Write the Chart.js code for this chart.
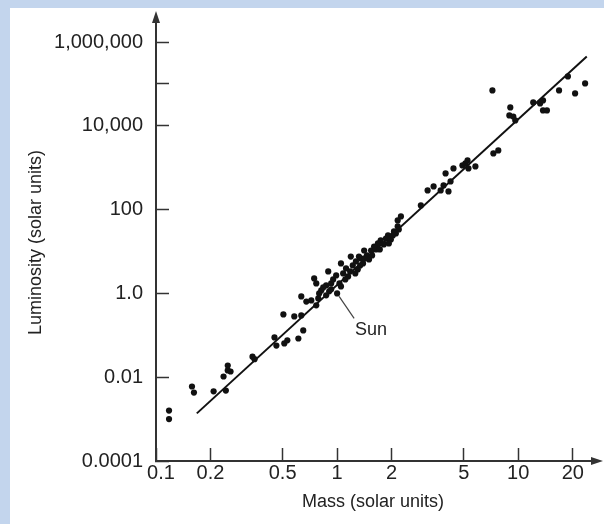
<!DOCTYPE html>
<html>
<head>
<meta charset="utf-8">
<script src="https://cdn.jsdelivr.net/npm/chart.js@4.4.0/dist/chart.umd.min.js"></script>
<style>
  html, body { margin: 0; padding: 0; }
  body { background: #c3d5ed; width: 604px; height: 524px; position: relative; overflow: hidden; }
  #panel { position: absolute; left: 10px; top: 8px; width: 594px; height: 516px; background: #fff; }
</style>
</head>
<body>
<div id="panel"><canvas id="mlChart" width="594" height="516"></canvas></div>
<script>
// Stars (solar units)
const mass = [0.118, 0.118, 0.158, 0.162, 0.208, 0.243, 0.236, 0.249, 0.258, 0.249,
  0.341, 0.350, 0.451, 0.462, 0.511, 0.531, 0.611, 0.650, 0.505, 0.580,
  0.634, 0.634, 0.676, 0.720, 0.767, 0.787, 0.817, 0.870, 0.927, 1.0,
  0.747, 0.893, 0.767, 1.05, 1.19, 1.32, 1.41, 1.60, 1.74, 1.91,
  2.16, 2.25, 2.16, 2.90, 3.16, 3.41, 3.73, 3.87, 3.97, 4.23,
  4.12, 4.39, 4.92, 5.11, 5.31, 5.80, 7.29, 7.76, 5.25, 7.20,
  9.04, 8.93, 9.39, 9.63, 12.1, 13.2, 13.7, 13.7, 14.4, 16.8,
  18.8, 20.6, 23.4,
  0.796, 0.838, 0.904, 0.951, 0.988, 1.03, 1.08, 1.12, 1.15, 1.22,
  1.27, 1.30, 1.35, 1.39, 1.46, 1.50, 1.54, 1.64, 1.68, 1.81,
  1.86, 1.98, 2.06, 2.11,
  0.870, 0.927, 1.05, 1.11, 1.18, 1.26, 1.34, 1.42, 1.56, 1.62,
  1.72, 1.93, 2.03, 2.19];
const luminosity = [0.0016, 0.0010, 0.0060, 0.0043, 0.0046, 0.0048, 0.0104, 0.0145, 0.0137, 0.019,
  0.031, 0.027, 0.089, 0.057, 0.064, 0.076, 0.084, 0.131, 0.315, 0.283,
  0.299, 0.85, 0.64, 0.68, 0.52, 0.76, 1.18, 1.55, 1.73, 1.0,
  2.28, 3.35, 1.73, 5.2, 7.6, 7.6, 10.6, 13.2, 18.4, 24.2,
  39.7, 68.8, 55.2, 126, 287, 358, 287, 378, 731, 471,
  272, 962, 1135, 1267, 962, 1074, 2195, 2588, 1493, 70000,
  27500, 17700, 16700, 13500, 36200, 34300, 40400, 23300, 23300, 70000,
  151000, 59300, 103000,
  1.0, 1.39, 1.12, 2.16, 2.69, 1.73, 3.0, 3.95, 2.55, 4.66,
  5.8, 3.74, 6.84, 5.2, 8.07, 6.48, 10.6, 11.2, 15.6, 14.8,
  20.5, 19.4, 30.2, 27.0,
  0.90, 1.25, 1.47, 2.16, 3.35, 3.0, 4.66, 6.84, 8.07, 12.5,
  11.2, 15.6, 24.2, 33.7];

// Fitted mass-luminosity line (end points)
const lineMass = [0.168, 23.9];
const lineLum = [0.00137, 450000];

// Axis ticks
const xTicks = [0.1, 0.2, 0.5, 1, 2, 5, 10, 20];
const xTickLabels = ['\u20020.1', '0.2', '0.5', '1', '2', '5', '10', '20'];
const yTicks = [0.0001, 0.01, 1, 100, 10000, 100000, 1000000];
const yTickLabels = ['0.0001', '0.01', '1.0', '100', '10,000', '', '1,000,000'];

const axisColor = '#333';
const textColor = '#222';
const family = 'Liberation Sans, Arial, Helvetica, sans-serif';
const tickFont = { family: family, size: 20 };
const titleFont = { family: family, size: 18 };

// arrow heads on the axes + the "Sun" call-out
const extras = {
    id: 'extras',
    afterDraw(chart) {
        const c = chart.ctx;
        const a = chart.chartArea;
        c.save();
        c.strokeStyle = axisColor;
        c.fillStyle = axisColor;
        c.lineWidth = 2;
        // x arrow
        c.beginPath();
        c.moveTo(a.right, a.bottom);
        c.lineTo(a.right + 4, a.bottom);
        c.stroke();
        c.beginPath();
        c.moveTo(a.right + 13, a.bottom);
        c.lineTo(a.right + 1, a.bottom - 4);
        c.lineTo(a.right + 1, a.bottom + 4);
        c.closePath();
        c.fill();
        // y arrow
        c.beginPath();
        c.moveTo(a.left, a.top);
        c.lineTo(a.left, a.top - 4);
        c.stroke();
        c.beginPath();
        c.moveTo(a.left, a.top - 13);
        c.lineTo(a.left - 4, a.top - 1);
        c.lineTo(a.left + 4, a.top - 1);
        c.closePath();
        c.fill();

        // Sun
        const sx = chart.scales.x.getPixelForValue(1);
        const sy = chart.scales.y.getPixelForValue(1);
        c.strokeStyle = '#444';
        c.lineWidth = 1.2;
        c.beginPath();
        c.moveTo(sx + 2, sy + 3);
        c.lineTo(sx + 17, sy + 25);
        c.stroke();
        c.fillStyle = textColor;
        c.font = '18px ' + family;
        c.textAlign = 'center';
        c.textBaseline = 'middle';
        c.fillText('Sun', sx + 34, sy + 37);
        c.restore();
    }
};

const ctx = document.getElementById('mlChart').getContext('2d');
const chart = new Chart(ctx, {
    type: 'scatter',
    data: {
        datasets: [{
            data: mass.map((m, i) => ({ x: m, y: luminosity[i] })),
            backgroundColor: '#111',
            borderWidth: 0,
            pointRadius: 3.1,
            clip: false
        }, {
            type: 'line',
            data: lineMass.map((m, i) => ({ x: m, y: lineLum[i] })),
            borderColor: '#111',
            borderWidth: 2,
            pointRadius: 0,
            fill: false
        }]
    },
    options: {
        responsive: false,
        animation: false,
        layout: { padding: { top: 16, right: 14, left: 0, bottom: 0 } },
        plugins: {
            legend: { display: false },
            tooltip: { enabled: false }
        },
        scales: {
            x: {
                type: 'logarithmic',
                min: 0.1,
                max: 24.9,
                afterBuildTicks: (scale) => { scale.ticks = xTicks.map(v => ({ value: v })); },
                afterFit: (scale) => {
                    scale.height = 63;
                    scale.paddingLeft = 0;
                    scale.paddingRight = 0;
                },
                ticks: {
                    autoSkip: false,
                    maxRotation: 0,
                    padding: 13,
                    color: textColor,
                    font: tickFont,
                    callback: (v) => xTickLabels[xTicks.indexOf(v)] ?? ''
                },
                grid: { drawOnChartArea: false, tickLength: -13, tickColor: axisColor, tickWidth: 1.5 },
                border: { color: axisColor, width: 2 },
                title: { display: true, text: 'Mass (solar units)', color: textColor, font: titleFont, padding: { top: 4, bottom: 11 } }
            },
            y: {
                type: 'logarithmic',
                min: 0.0001,
                max: 2700000,
                afterBuildTicks: (scale) => { scale.ticks = yTicks.map(v => ({ value: v })); },
                afterFit: (scale) => {
                    scale.width = 146;
                    scale.paddingTop = 0;
                    scale.paddingBottom = 0;
                },
                ticks: {
                    autoSkip: false,
                    padding: 26,
                    color: textColor,
                    font: tickFont,
                    callback: (v) => yTickLabels[yTicks.indexOf(v)] ?? ''
                },
                grid: { drawOnChartArea: false, tickLength: -13, tickColor: axisColor, tickWidth: 1.5 },
                border: { color: axisColor, width: 2 },
                title: { display: true, text: 'Luminosity (solar units)', color: textColor, font: titleFont, padding: { top: 15 } }
            }
        }
    },
    plugins: [extras]
});
</script>
</body>
</html>
